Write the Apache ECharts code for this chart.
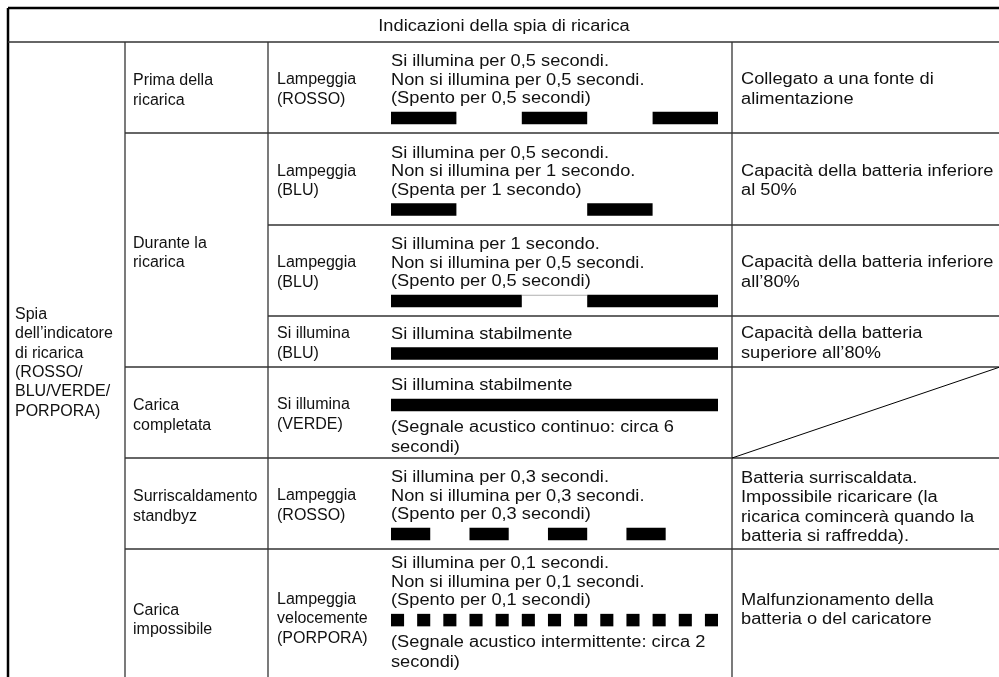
<!DOCTYPE html>
<html><head><meta charset="utf-8">
<script src="https://cdn.jsdelivr.net/npm/echarts@6/dist/echarts.min.js"></script>
<style>html,body{margin:0;padding:0;background:#fff}#c{width:999px;height:677px}</style>
</head><body><div id="c"></div>
<script>
// ---------------- data ----------------
const title = 'Indicazioni della spia di ricarica';
const indicatorLabel = ['Spia', 'dell’indicatore', 'di ricarica', '(ROSSO/', 'BLU/VERDE/', 'PORPORA)'];
const phases = [['Prima della', 'ricarica'], ['Durante la', 'ricarica'], ['Carica', 'completata'], ['Surriscaldamento', 'standbyz'], ['Carica', 'impossibile']];
const phaseRows = [1, 3, 1, 1, 1];
const states = [['Lampeggia', '(ROSSO)'], ['Lampeggia', '(BLU)'], ['Lampeggia', '(BLU)'], ['Si illumina', '(BLU)'], ['Si illumina', '(VERDE)'], ['Lampeggia', '(ROSSO)'], ['Lampeggia', 'velocemente', '(PORPORA)']];
const descriptions = [
  ['Si illumina per 0,5 secondi.', 'Non si illumina per 0,5 secondi.', '(Spento per 0,5 secondi)'],
  ['Si illumina per 0,5 secondi.', 'Non si illumina per 1 secondo.', '(Spenta per 1 secondo)'],
  ['Si illumina per 1 secondo.', 'Non si illumina per 0,5 secondi.', '(Spento per 0,5 secondi)'],
  ['Si illumina stabilmente'],
  ['Si illumina stabilmente'],
  ['Si illumina per 0,3 secondi.', 'Non si illumina per 0,3 secondi.', '(Spento per 0,3 secondi)'],
  ['Si illumina per 0,1 secondi.', 'Non si illumina per 0,1 secondi.', '(Spento per 0,1 secondi)']
];
const beepNotes = [[], [], [], [], ['(Segnale acustico continuo: circa 6', 'secondi)'], [], ['(Segnale acustico intermittente: circa 2', 'secondi)']];
const meanings = [
  ['Collegato a una fonte di', 'alimentazione'],
  ['Capacità della batteria inferiore', 'al 50%'],
  ['Capacità della batteria inferiore', 'all’80%'],
  ['Capacità della batteria', 'superiore all’80%'],
  [],
  ['Batteria surriscaldata.', 'Impossibile ricaricare (la', 'ricarica comincerà quando la', 'batteria si raffredda).'],
  ['Malfunzionamento della', 'batteria o del caricatore']
];
// blink patterns (seconds)
const onSeconds = [0.5, 0.5, 1, 2.5, 2.5, 0.3, 0.1];
const offSeconds = [0.5, 1, 0.5, 0, 0, 0.3, 0.1];
const flashes = [3, 2, 2, 1, 1, 4, 13];
const timeSpan = [0, 2.5];

// ---------------- layout ----------------
const COL = { left: 8, phase: 125, state: 268, desc: 391, descEnd: 718, meaning: 732, right: 1000 };
const TOP = 8, HEAD = 42;
const ROWY = [42, 133, 225, 316, 367, 458, 549, 685];
const LH = 19.3, LH4 = 18.5, FS = 16, PADX = 9;
const SCALES = [1.0, 1.14];           // narrow left columns, wide right columns
const GAPBAR = 13, BARH = 12.5, GAPNOTE = 16.5;
const DESC_SHIFT = [0, 0, 0, 0, 3, 0, -5];
const MEAN_SHIFT = [0, 0, 0, 0, 0, 2, -9];
const LINEC = '#333333';
const FONT = FS + 'px "Liberation Sans", Arial, Helvetica, sans-serif';

const texts = [];
const textItems = []; // [x, y, idx, alignCode, scaleCode]
function addText(str, x, y, align, sc) { texts.push(str); textItems.push([x, y, texts.length - 1, align === 'center' ? 1 : 0, sc]); }
function addBlock(lines, x, cy, align, sc, lh) { lines.forEach((s, i) => addText(s, x, cy + (i - (lines.length - 1) / 2) * lh, align, sc)); }

addText(title, (COL.left + COL.right) / 2, 27, 'center', 1);
addBlock(indicatorLabel, COL.left + 7, 363, 'left', 0, LH);

let r0 = 0;
phases.forEach((p, i) => {
  const a = ROWY[r0], b = ROWY[r0 + phaseRows[i]];
  addBlock(p, COL.phase + 8, (a + b) / 2 + 3, 'left', 0, LH);
  r0 += phaseRows[i];
});
states.forEach((s, r) => addBlock(s, COL.state + PADX, (ROWY[r] + ROWY[r + 1]) / 2 + 2, 'left', 0, LH));
meanings.forEach((m, r) => { if (m.length) addBlock(m, COL.meaning + PADX, (ROWY[r] + ROWY[r + 1]) / 2 + 2 + MEAN_SHIFT[r], 'left', 1, LH); });

const barTop = [];
descriptions.forEach((d, r) => {
  const nT = d.length, nN = beepNotes[r].length;
  let h = 9 + (nT - 1) * LH4 + GAPBAR + BARH;
  if (nN) h += GAPNOTE + (nN - 1) * LH + 9;
  const rowH = ROWY[r + 1] - ROWY[r];
  const first = ROWY[r] + (rowH - h) / 2 + 9 + 1 + DESC_SHIFT[r];
  d.forEach((s, i) => addText(s, COL.desc, first + i * LH4, 'left', 1));
  const bt = first + (nT - 1) * LH4 + GAPBAR;
  barTop.push(bt);
  beepNotes[r].forEach((s, i) => addText(s, COL.desc, bt + BARH + GAPNOTE + i * LH, 'left', 1));
});

// table rules: [x1, y1, x2, y2, width, colorCode]
const segs = [];
segs.push([COL.left, TOP, COL.right, TOP, 2.5, 1]);
segs.push([COL.left, TOP, COL.left, 700, 2.5, 1]);
segs.push([COL.left, HEAD, COL.right, HEAD, 1.4, 0]);
[COL.phase, COL.state, COL.meaning].forEach(x => segs.push([x, HEAD, x, 700, 1.3, 0]));
r0 = 0;
phaseRows.forEach(n => {
  for (let k = 1; k <= n; k++) {
    const y = ROWY[r0 + k];
    segs.push([k === n ? COL.phase : COL.state, y, COL.right, y, 1.3, 0]);
  }
  r0 += n;
});
meanings.forEach((m, r) => { if (!m.length) segs.push([COL.meaning, ROWY[r + 1], COL.right, ROWY[r], 1, 1]); });

// blink marks: [start, end, yTop, yBottom]
const blinks = [];
onSeconds.forEach((on, r) => {
  for (let i = 0; i < flashes[r]; i++) {
    const s = i * (on + offSeconds[r]);
    blinks.push([s, s + on, barTop[r], barTop[r] + BARH]);
  }
});
// faint trace joining the two long pulses (as in source)
const traces = [[onSeconds[2], onSeconds[2] + offSeconds[2], barTop[2] + 0.5, barTop[2] + 0.5]];

const colors = [LINEC, '#000000'];
const chart = echarts.init(document.getElementById('c'), null, { renderer: 'canvas', width: 999, height: 677 });
chart.setOption({
  animation: false,
  backgroundColor: '#ffffff',
  grid: [
    { left: 0, top: 0, width: 999, height: 677, show: false },
    { left: COL.desc, top: 0, width: COL.descEnd - COL.desc, height: 677, show: false }
  ],
  xAxis: [
    { gridIndex: 0, type: 'value', min: 0, max: 999, show: false },
    { gridIndex: 1, type: 'value', min: timeSpan[0], max: timeSpan[1], show: false }
  ],
  yAxis: [
    { gridIndex: 0, type: 'value', min: 0, max: 677, inverse: true, show: false },
    { gridIndex: 1, type: 'value', min: 0, max: 677, inverse: true, show: false }
  ],
  series: [
    {
      type: 'custom', xAxisIndex: 0, yAxisIndex: 0, clip: false, silent: true,
      encode: { x: [0, 2], y: [1, 3] },
      data: segs,
      renderItem: (params, api) => {
        const p1 = api.coord([api.value(0), api.value(1)]);
        const p2 = api.coord([api.value(2), api.value(3)]);
        return { type: 'line', shape: { x1: p1[0], y1: p1[1], x2: p2[0], y2: p2[1] },
          style: { stroke: colors[api.value(5)], lineWidth: api.value(4) } };
      }
    },
    {
      type: 'custom', xAxisIndex: 1, yAxisIndex: 1, clip: false, silent: true,
      encode: { x: [0, 1], y: [2, 3] },
      data: blinks,
      renderItem: (params, api) => {
        const p1 = api.coord([api.value(0), api.value(2)]);
        const p2 = api.coord([api.value(1), api.value(3)]);
        return { type: 'rect', shape: { x: p1[0], y: p1[1], width: p2[0] - p1[0], height: p2[1] - p1[1] },
          style: { fill: '#000000' } };
      }
    },
    {
      type: 'custom', xAxisIndex: 1, yAxisIndex: 1, clip: false, silent: true,
      encode: { x: [0, 1], y: [2, 3] },
      data: traces,
      renderItem: (params, api) => {
        const p1 = api.coord([api.value(0), api.value(2)]);
        const p2 = api.coord([api.value(1), api.value(3)]);
        return { type: 'line', shape: { x1: p1[0], y1: p1[1], x2: p2[0], y2: p2[1] },
          style: { stroke: '#b0b0b0', lineWidth: 1 } };
      }
    },
    {
      type: 'custom', xAxisIndex: 0, yAxisIndex: 0, clip: false, silent: true,
      encode: { x: 0, y: 1 },
      data: textItems,
      renderItem: (params, api) => {
        const p = api.coord([api.value(0), api.value(1)]);
        const center = api.value(3) === 1;
        return { type: 'text', x: p[0], y: p[1], scaleX: SCALES[api.value(4)], scaleY: 1,
          style: { text: texts[api.value(2)], x: 0, y: 0, font: FONT, fill: '#111111',
            align: center ? 'center' : 'left', verticalAlign: 'middle',
            textAlign: center ? 'center' : 'left', textVerticalAlign: 'middle' } };
      }
    }
  ]
});
</script></body></html>
